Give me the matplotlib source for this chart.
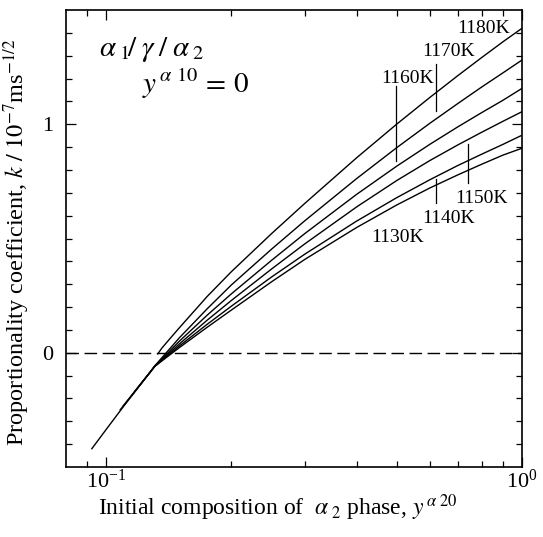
import matplotlib
matplotlib.use("Agg")
import matplotlib.pyplot as plt
from matplotlib.ticker import FixedLocator, NullFormatter, LogFormatterMathtext

plt.rcParams['font.family'] = ['Liberation Serif', 'DejaVu Serif']
plt.rcParams['mathtext.fontset'] = 'stix'

# composition y^{a20} and coefficient k (10^-7 m s^-1/2)
x_1180 = [0.133, 0.136, 0.142, 0.15, 0.175, 0.2, 0.25, 0.3, 0.4, 0.5, 0.6, 0.7, 0.8, 0.9, 1.0]
k_1180 = [-0.005, 0.02, 0.06, 0.11, 0.247, 0.355, 0.522, 0.653, 0.853, 1.001, 1.117, 1.212,
          1.292, 1.361, 1.420]

x_1170 = [0.127, 0.1307, 0.15, 0.175, 0.2, 0.25, 0.3, 0.4, 0.5, 0.6, 0.7, 0.8, 0.9, 1.0]
k_1170 = [-0.09, -0.058, 0.066, 0.193, 0.297, 0.454, 0.577, 0.762, 0.898, 1.004, 1.090,
          1.163, 1.225, 1.281]

x_1160 = [0.117, 0.1307, 0.15, 0.175, 0.2, 0.25, 0.3, 0.4, 0.5, 0.6, 0.7, 0.8, 0.9, 1.0]
k_1160 = [-0.17, -0.06, 0.051, 0.165, 0.258, 0.405, 0.521, 0.693, 0.817, 0.912, 0.988,
          1.051, 1.105, 1.157]

x_1150 = [0.1096, 0.1307, 0.15, 0.175, 0.2, 0.25, 0.3, 0.4, 0.5, 0.6, 0.7, 0.8, 0.9, 1.0]
k_1150 = [-0.235, -0.06, 0.039, 0.143, 0.229, 0.367, 0.476, 0.638, 0.754, 0.841, 0.909,
          0.965, 1.013, 1.055]

x_1140 = [0.108, 0.1307, 0.15, 0.175, 0.2, 0.25, 0.3, 0.4, 0.5, 0.6, 0.7, 0.8, 0.9, 1.0]
k_1140 = [-0.25, -0.06, 0.030, 0.125, 0.204, 0.332, 0.431, 0.576, 0.679, 0.757, 0.819,
          0.869, 0.912, 0.952]

x_1130 = [0.0923, 0.1, 0.11, 0.1307, 0.15, 0.175, 0.2, 0.25, 0.3, 0.4, 0.5, 0.6, 0.7, 0.8,
          0.9, 1.0]
k_1130 = [-0.42, -0.335, -0.235, -0.06, 0.023, 0.112, 0.187, 0.311, 0.408, 0.548, 0.647,
          0.721, 0.778, 0.825, 0.865, 0.895]

curves = [(x_1180, k_1180), (x_1170, k_1170), (x_1160, k_1160),
          (x_1150, k_1150), (x_1140, k_1140), (x_1130, k_1130)]

# temperature labels: text, label position, marker line (x, y0, y1)
labels = ["1180K", "1170K", "1160K", "1150K", "1140K", "1130K"]
label_pos = [(0.806, 1.418), (0.667, 1.317), (0.5315, 1.202),
             (0.801, 0.674), (0.664, 0.586), (0.503, 0.503)]
marks = [(0.621, 1.056, 1.265), (0.499, 0.84, 1.166),
         (0.742, 0.743, 0.913), (0.621, 0.657, 0.762)]

fig = plt.figure(figsize=(5.43, 5.37), dpi=100)
ax = fig.add_axes([66 / 543, 70 / 537, 456 / 543, 457 / 537])

for xs, ks in curves:
    ax.plot(xs, ks, color="black", lw=1.0)

ax.axhline(0, color="black", lw=1.0, dashes=(9, 4))

for m in marks:
    ax.plot([m[0], m[0]], [m[1], m[2]], color="black", lw=0.9)

for t, p in zip(labels, label_pos):
    ax.text(p[0], p[1], t, fontsize=14, ha="center", va="center")

ax.text(0.096, 1.30, r"$\alpha_{\;1}\!/\;\gamma\;/\;\alpha_{\;2}$", fontsize=21)
ax.text(0.122, 1.135, r"$y^{\,\alpha\ 10}\,=\,0$", fontsize=21)

ax.set_xscale("log")
ax.set_xlim(0.08, 1.0)
ax.set_ylim(-0.5, 1.5)

ax.xaxis.set_major_locator(FixedLocator([0.1, 1.0]))
ax.xaxis.set_major_formatter(LogFormatterMathtext())
ax.xaxis.set_minor_locator(FixedLocator([0.09, 0.2, 0.3, 0.4, 0.5, 0.6, 0.7, 0.8, 0.9]))
ax.xaxis.set_minor_formatter(NullFormatter())
ax.yaxis.set_major_locator(FixedLocator([0, 1]))
ax.yaxis.set_minor_locator(FixedLocator([-0.4, -0.3, -0.2, -0.1, 0.1, 0.2, 0.3, 0.4, 0.5,
                                         0.6, 0.7, 0.8, 0.9, 1.1, 1.2, 1.3, 1.4]))

ax.tick_params(which="both", direction="in", top=True, right=True, width=0.9, labelsize=16)
ax.tick_params(which="major", length=7)
ax.tick_params(which="minor", length=4)
ax.tick_params(axis="y", pad=9)
ax.tick_params(axis="x", pad=2)
for s in ax.spines.values():
    s.set_linewidth(1.2)

ax.set_xlabel(r"Initial composition of $\ \alpha_{\ 2}$ phase, $y^{\,\alpha\ 20}$", fontsize=17)
ax.xaxis.set_label_coords((278 - 66) / 456, -0.056)
ax.set_ylabel(r"Proportionality coefficient, $k\ /\ 10^{-7}$ms$^{-1/2}$", fontsize=17.5)
ax.yaxis.set_label_coords(-0.074, 0.492)

fig.savefig("out.png", dpi=100)
